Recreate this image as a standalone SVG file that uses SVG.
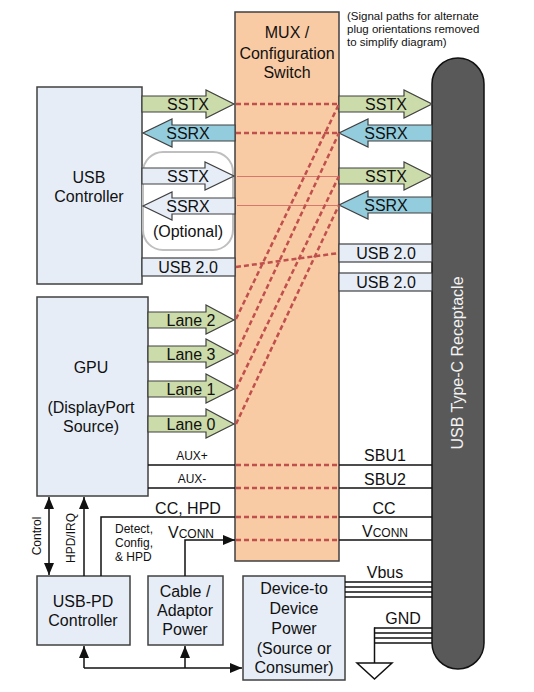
<svg xmlns="http://www.w3.org/2000/svg" width="534" height="692" viewBox="0 0 534 692">
<style>
text{font-family:"Liberation Sans",Arial,sans-serif;fill:#111;}
.t16{font-size:16px;text-anchor:middle;}
.t12{font-size:12px;}
.note{font-size:11.5px;}
.box{fill:#e6edf7;stroke:#404040;stroke-width:1.5;}
.grn{fill:#cbdba9;stroke:#404040;stroke-width:1.2;}
.blu{fill:#93cddd;stroke:#404040;stroke-width:1.2;}
.opt{fill:#e6edf7;stroke:#404040;stroke-width:1.2;}
.ln{stroke:#111;stroke-width:1.5;fill:none;}
.dash{stroke:#c0504d;stroke-width:2.5;stroke-dasharray:5 3;fill:none;}
.thin{stroke:#d0605c;stroke-width:1;fill:none;opacity:0.8;}
</style>
<defs>
<marker id="ah" viewBox="0 0 12 10" refX="12" refY="5" markerWidth="12" markerHeight="10" markerUnits="userSpaceOnUse" orient="auto-start-reverse">
<path d="M0,0 L12,5 L0,10 Z" fill="#111"/>
</marker>
</defs>
<rect width="534" height="692" fill="#fff"/>

<g id="mux">
<rect x="235" y="12" width="104" height="549" fill="#f9cba4" stroke="#404040" stroke-width="1.5"/>
<text class="t16" x="287" y="38">MUX /</text>
<text class="t16" x="287" y="59">Configuration</text>
<text class="t16" x="287" y="78">Switch</text>
</g>

<g id="note">
<text class="note" x="347" y="19.5">(Signal paths for alternate</text>
<text class="note" x="347" y="32.5">plug orientations removed</text>
<text class="note" x="347" y="45.5">to simplify diagram)</text>
</g>

<g id="receptacle">
<rect x="432" y="58" width="52" height="611" rx="26" ry="26" fill="#595959" stroke="#111" stroke-width="1.5"/>
<text class="t16" x="0" y="0" transform="translate(463,363) rotate(-90)" style="fill:#f2f2f2">USB Type-C Receptacle</text>
</g>

<g id="usb-controller">
<rect class="box" x="37" y="87" width="105" height="197"/>
<text class="t16" x="89" y="183">USB</text>
<text class="t16" x="89" y="202">Controller</text>
</g>

<g id="optional-group">
<rect x="143" y="152" width="90" height="98" rx="20" ry="20" fill="none" stroke="#bfbfbf" stroke-width="2"/>
<text class="t16" x="188" y="237">(Optional)</text>
</g>

<g id="gpu">
<rect class="box" x="37" y="297" width="111" height="199"/>
<text class="t16" x="91" y="373">GPU</text>
<text class="t16" x="91" y="413">(DisplayPort</text>
<text class="t16" x="91" y="432">Source)</text>
</g>

<g id="usb-pd">
<rect class="box" x="37" y="576" width="93" height="69"/>
<text class="t16" x="83" y="607">USB-PD</text>
<text class="t16" x="83" y="626">Controller</text>
</g>

<g id="cable-power">
<rect class="box" x="148" y="576" width="75" height="69"/>
<text class="t16" x="185" y="597">Cable /</text>
<text class="t16" x="185" y="616">Adaptor</text>
<text class="t16" x="185" y="635">Power</text>
</g>

<g id="d2d-power">
<rect class="box" x="243" y="576" width="102" height="104"/>
<text class="t16" x="294" y="594">Device-to</text>
<text class="t16" x="294" y="614">Device</text>
<text class="t16" x="294" y="634">Power</text>
<text class="t16" x="294" y="654">(Source or</text>
<text class="t16" x="294" y="673">Consumer)</text>
</g>

<g id="ground">
<polygon points="357,663 392,663 374.5,679" fill="#fff" stroke="#111" stroke-width="1.5"/>
</g>

<g id="connectors">
<!-- Left SS arrows -->
<polygon class="grn" points="142,96 206,96 206,90 234,104 206,118 206,112 142,112"/>
<text class="t16" x="188" y="110">SSTX</text>
<polygon class="blu" points="235,125 172,125 172,119 143,133 172,147 172,141 235,141"/>
<text class="t16" x="188" y="139">SSRX</text>
<polygon class="opt" points="142,168 205,168 205,162 234,176 205,190 205,184 142,184"/>
<text class="t16" x="188" y="182">SSTX</text>
<polygon class="opt" points="235,198 172,198 172,192 143,206 172,220 172,214 235,214"/>
<text class="t16" x="188" y="212">SSRX</text>
<rect class="opt" x="142" y="258" width="93" height="18"/>
<text class="t16" x="188" y="273">USB 2.0</text>

<!-- Right SS arrows -->
<polygon class="grn" points="339,96 404,96 404,90 432,104 404,118 404,112 339,112"/>
<text class="t16" x="386" y="110">SSTX</text>
<polygon class="blu" points="432,125 368,125 368,119 339,133 368,147 368,141 432,141"/>
<text class="t16" x="386" y="139">SSRX</text>
<polygon class="grn" points="339,168 404,168 404,162 432,176 404,190 404,184 339,184"/>
<text class="t16" x="386" y="182">SSTX</text>
<polygon class="blu" points="432,197 368,197 368,191 339,205 368,219 368,213 432,213"/>
<text class="t16" x="386" y="211">SSRX</text>
<rect class="opt" x="339" y="244" width="93" height="18"/>
<text class="t16" x="386" y="259">USB 2.0</text>
<rect class="opt" x="339" y="273" width="93" height="18"/>
<text class="t16" x="386" y="288">USB 2.0</text>

<!-- Lanes -->
<polygon class="grn" points="148,312 206,312 206,305 234,320 206,334 206,328 148,328"/>
<text class="t16" x="191" y="326">Lane 2</text>
<polygon class="grn" points="148,346 206,346 206,339 234,354 206,368 206,362 148,362"/>
<text class="t16" x="191" y="360">Lane 3</text>
<polygon class="grn" points="148,381 206,381 206,374 234,389 206,403 206,397 148,397"/>
<text class="t16" x="191" y="395">Lane 1</text>
<polygon class="grn" points="148,416 206,416 206,409 234,424 206,438 206,432 148,432"/>
<text class="t16" x="191" y="430">Lane 0</text>

<!-- MUX internal paths -->
<line class="dash" x1="236" y1="104" x2="339" y2="104"/>
<line class="dash" x1="236" y1="133" x2="339" y2="133"/>
<line class="thin" x1="237" y1="176.5" x2="337" y2="176.5"/>
<line class="thin" x1="237" y1="205.5" x2="337" y2="205.5"/>
<line class="dash" x1="236" y1="267" x2="339" y2="253"/>
<line class="dash" x1="236" y1="319" x2="339" y2="104"/>
<line class="dash" x1="236" y1="354" x2="339" y2="133"/>
<line class="dash" x1="236" y1="389" x2="339" y2="176"/>
<line class="dash" x1="236" y1="424" x2="339" y2="205"/>
<line class="dash" x1="236" y1="465" x2="339" y2="465"/>
<line class="dash" x1="236" y1="488" x2="339" y2="488"/>
<line class="dash" x1="236" y1="517" x2="339" y2="517"/>
<line class="dash" x1="236" y1="540" x2="339" y2="540"/>

<!-- AUX / SBU -->
<line class="ln" x1="148" y1="465" x2="235" y2="465"/>
<text class="t12" x="192" y="460" text-anchor="middle">AUX+</text>
<line class="ln" x1="148" y1="488" x2="235" y2="488"/>
<text class="t12" x="192" y="483" text-anchor="middle">AUX-</text>
<line class="ln" x1="339" y1="465" x2="432" y2="465"/>
<text class="t16" x="385" y="461">SBU1</text>
<line class="ln" x1="339" y1="488" x2="432" y2="488"/>
<text class="t16" x="385" y="485">SBU2</text>

<!-- CC -->
<polyline class="ln" points="101,576 101,517 235,517"/>
<text class="t16" x="188" y="514">CC, HPD</text>
<line class="ln" x1="339" y1="517" x2="432" y2="517"/>
<text class="t16" x="384" y="514">CC</text>
<text class="t12" x="115" y="533">Detect,</text>
<text class="t12" x="115" y="547">Config,</text>
<text class="t12" x="115" y="561">&amp; HPD</text>

<!-- VCONN -->
<polyline class="ln" points="185,576 185,540 235,540" marker-end="url(#ah)"/>
<text x="168" y="538" style="font-size:16px">V<tspan style="font-size:12px">CONN</tspan></text>
<line class="ln" x1="339" y1="540" x2="432" y2="540"/>
<text x="362" y="537" style="font-size:16px">V<tspan style="font-size:12px">CONN</tspan></text>

<!-- Control / HPD-IRQ -->
<line class="ln" x1="49" y1="497" x2="49" y2="575" marker-start="url(#ah)" marker-end="url(#ah)"/>
<text class="t12" x="0" y="0" text-anchor="middle" transform="translate(41,536) rotate(-90)">Control</text>
<line class="ln" x1="84" y1="576" x2="84" y2="497" marker-end="url(#ah)"/>
<text class="t12" x="0" y="0" text-anchor="middle" transform="translate(75,538) rotate(-90)">HPD/IRQ</text>

<!-- Bottom power bus -->
<line class="ln" x1="84" y1="668" x2="242" y2="668" marker-end="url(#ah)"/>
<line class="ln" x1="84" y1="668" x2="84" y2="646" marker-end="url(#ah)"/>
<line class="ln" x1="185" y1="668" x2="185" y2="646" marker-end="url(#ah)"/>

<!-- Vbus -->
<g class="ln" stroke-width="1.3">
<line x1="345" y1="582" x2="432" y2="582"/>
<line x1="345" y1="587" x2="432" y2="587"/>
<line x1="345" y1="592" x2="432" y2="592"/>
<line x1="345" y1="597" x2="432" y2="597"/>
</g>
<text class="t16" x="385" y="578">Vbus</text>

<!-- GND -->
<g class="ln" stroke-width="1.3">
<line x1="374" y1="628" x2="432" y2="628"/>
<line x1="374" y1="633" x2="432" y2="633"/>
<line x1="374" y1="638" x2="432" y2="638"/>
<line x1="374" y1="643" x2="432" y2="643"/>
<line x1="374.5" y1="627.5" x2="374.5" y2="663"/>
</g>
<text class="t16" x="403" y="624">GND</text>
</g>
</svg>
